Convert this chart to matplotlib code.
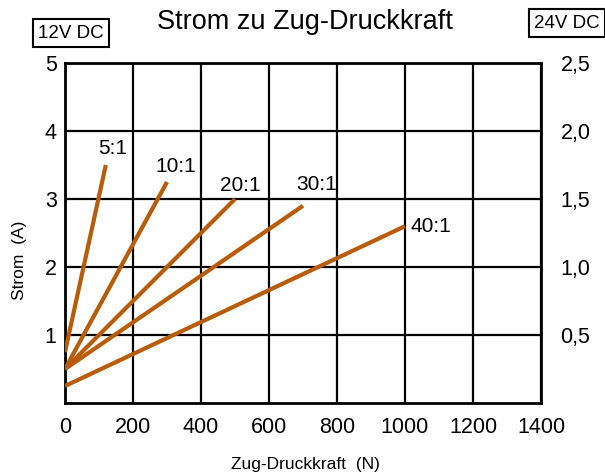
import matplotlib
matplotlib.use("Agg")
import matplotlib.pyplot as plt
from matplotlib.ticker import FuncFormatter

plt.rcParams['font.family'] = ['Liberation Sans', 'DejaVu Sans']

# Data
ratios = ["5:1", "10:1", "20:1", "30:1", "40:1"]
force_start = [0, 0, 0, 0, 0]
force_end = [120, 300, 500, 700, 1000]
current_start = [0.75, 0.5, 0.5, 0.5, 0.25]
current_end = [3.5, 3.25, 3.0, 2.9, 2.6]
x_ticks = [0, 200, 400, 600, 800, 1000, 1200, 1400]
y_ticks_left = [1, 2, 3, 4, 5]
y_ticks_right = [0.5, 1.0, 1.5, 2.0, 2.5]

line_color = '#B85C0A'

fig = plt.figure(figsize=(6.05, 4.74), dpi=100)
ax = fig.add_axes([65/605, 1-403/474, (541-65)/605, (403-63)/474])

for xs, xe, ys, ye in zip(force_start, force_end, current_start, current_end):
    ax.plot([xs, xe], [ys, ye], color=line_color, lw=3.0, solid_capstyle='butt', zorder=3)

# label offsets (points) relative to line end
offsets = [(5, 12, 'center'), (6, 11, 'center'), (4, 10, 'center'), (10, 15, 'center'), (4, 0, 'left')]
for name, xe, ye, (dx, dy, ha) in zip(ratios, force_end, current_end, offsets):
    ax.annotate(name, (xe, ye), xytext=(dx, dy), textcoords='offset points',
                ha=ha, va='center', fontsize=15, zorder=4)

ax.set_xlim(0, 1400)
ax.set_ylim(0, 5)
ax.set_xticks(x_ticks)
ax.set_yticks(y_ticks_left)
ax.grid(True, color='black', lw=1.6, zorder=1)
ax.set_axisbelow(True)
for s in ax.spines.values():
    s.set_linewidth(2.0)
ax.tick_params(length=0, labelsize=15.5)
ax.tick_params(axis='x', pad=10)
ax.tick_params(axis='y', pad=6)

ax2 = ax.twinx()
ax2.set_ylim(0, 2.5)
ax2.set_yticks(y_ticks_right)
ax2.yaxis.set_major_formatter(FuncFormatter(lambda v, p: f"{v:.1f}".replace('.', ',')))
ax2.tick_params(length=0, labelsize=15.5, pad=14)
for s in ax2.spines.values():
    s.set_visible(False)

fig.text(305/605, 1-22/474, "Strom zu Zug-Druckkraft", ha='center', va='center', fontsize=19.5)
fig.text(71/605, 1-33/474, "12V DC", ha='center', va='center', fontsize=13.5,
         bbox=dict(boxstyle='square,pad=0.28', fc='white', ec='black', lw=1.5))
fig.text(567/605, 1-23/474, "24V DC", ha='center', va='center', fontsize=13.5,
         bbox=dict(boxstyle='square,pad=0.28', fc='white', ec='black', lw=1.5))
fig.text(305/605, 1-465/474, "Zug-Druckkraft  (N)", ha='center', va='center', fontsize=12.5)
fig.text(20/605, 1-260/474, "Strom  (A)", ha='center', va='center', rotation=90, fontsize=12.5)

fig.savefig("out.png", dpi=100)
